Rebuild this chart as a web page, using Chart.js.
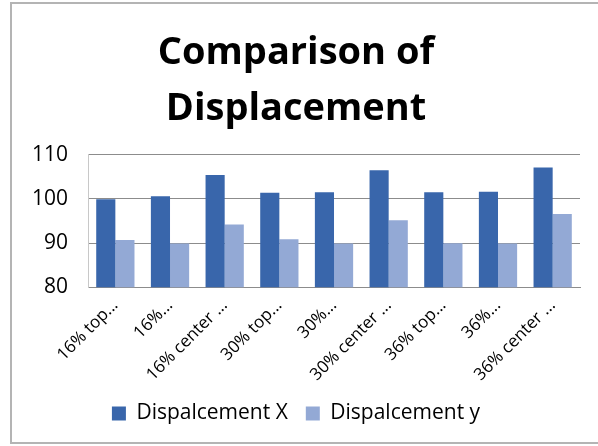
<!DOCTYPE html>
<html>
<head>
<meta charset="utf-8">
<script src="https://cdn.jsdelivr.net/npm/chart.js@4.4.1/dist/chart.umd.min.js"></script>
<style>
  html, body { margin: 0; padding: 0; background: #fff; }
  #wrap { width: 598px; height: 446px; }
</style>
</head>
<body>
<div id="wrap"><canvas id="chart" width="598" height="446"></canvas></div>
<script>
// ── Data ─────────────────────────
const categories = [
  '16% top...', '16%...', '16% center ...',
  '30% top...', '30%...', '30% center ...',
  '36% top...', '36%...', '36% center ...'
];
const displacementX = [99.9, 100.6, 105.4, 101.4, 101.5, 106.5, 101.5, 101.6, 107.1];
const displacementY = [90.7, 89.9, 94.2, 90.9, 89.9, 95.2, 90.0, 89.9, 96.6];
const yTicks = [80, 90, 100, 110];

const FONT = '"Open Sans", "Noto Sans", sans-serif';

// outer frame round the chart object
const framePlugin = {
  id: 'frame',
  beforeDraw(chart) {
    const { ctx } = chart;
    ctx.save();
    ctx.strokeStyle = '#b4b4b4';
    ctx.lineWidth = 2;
    ctx.strokeRect(11, 3, 600, 440);
    ctx.restore();
  }
};

new Chart(document.getElementById('chart'), {
  type: 'bar',
  data: {
    labels: categories,
    datasets: [
      {
        label: 'Dispalcement X',
        data: displacementX,
        backgroundColor: '#3966ab',
        categoryPercentage: 0.7,
        barPercentage: 1.0
      },
      {
        label: 'Dispalcement y',
        data: displacementY,
        backgroundColor: '#93a9d5',
        categoryPercentage: 0.7,
        barPercentage: 1.0
      }
    ]
  },
  options: {
    responsive: false,
    animation: false,
    layout: { padding: { left: 12, right: 18, top: 25, bottom: 12 } },
    plugins: {
      title: {
        display: true,
        text: ['Comparison of', 'Displacement'],
        color: '#000',
        font: { family: FONT, size: 38, weight: 'bold', lineHeight: 1.47 },
        padding: { top: 0, bottom: 18 }
      },
      legend: {
        position: 'bottom',
        labels: {
          color: '#000',
          font: { family: FONT, size: 21 },
          boxWidth: 14,
          boxHeight: 14,
          padding: 18
        }
      },
      tooltip: { enabled: false }
    },
    scales: {
      x: {
        grid: { display: false },
        border: { display: true, color: '#8c8c8c', width: 1 },
        ticks: {
          color: '#000',
          font: { family: FONT, size: 17 },
          minRotation: 45,
          maxRotation: 45,
          autoSkip: false,
          padding: 0
        }
      },
      y: {
        min: 80,
        max: 110,
        afterBuildTicks: axis => { axis.ticks = yTicks.map(v => ({ value: v })); },
        grid: { color: '#8c8c8c', lineWidth: 1, drawTicks: false },
        border: { display: true, color: '#c8c8c8', width: 1 },
        ticks: {
          color: '#000',
          font: { family: FONT, size: 21 },
          padding: 20
        }
      }
    }
  },
  plugins: [framePlugin]
});
</script>
</body>
</html>
